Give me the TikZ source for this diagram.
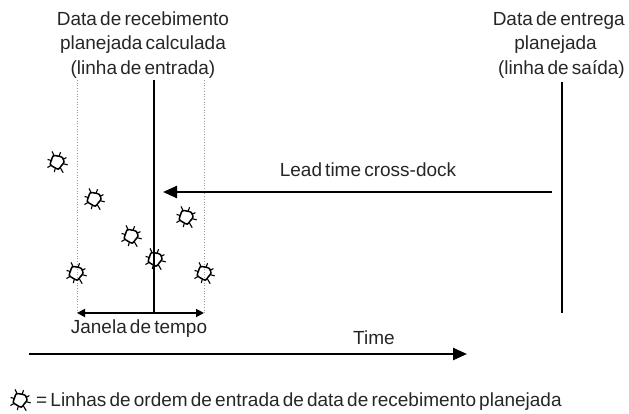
\documentclass[tikz,border=0pt]{standalone}
\usepackage{fontspec}
\setmainfont[WordSpace=0.6]{Liberation Sans}
\usetikzlibrary{arrows.meta}
\definecolor{txt}{HTML}{262626}
\definecolor{dotc}{HTML}{9A9A9A}
\tikzset{
  lbl/.style={inner sep=0pt, text=txt, font=\fontsize{19}{24.5}\selectfont, align=center},
  vline/.style={line width=1.1pt, black},
  dline/.style={line width=0.7pt, dotc, dotted},
  bigarrow/.style={line width=2.4pt, -{Triangle[length=14pt,width=12pt]}},
  bracket/.style={line width=1.8pt, {Triangle[length=8pt,width=8pt]}-{Triangle[length=8pt,width=8pt]}},
  burst/.pic={
    \begin{scope}[scale=1.3]
    \draw[line width=1.5pt] plot[smooth cycle] coordinates {(0:5.4)(40:4.4)(80:5.6)(120:4.6)(160:5.5)(200:4.5)(240:5.6)(280:4.6)(320:5.4)};
    \foreach \a/\r in {15/8.5,60/9.5,105/8,150/8.5,195/7.5,245/9,290/8,335/8}
      \draw[line width=1.1pt] (\a:4.8) -- (\a:\r);
    \end{scope}
  }
}
\begin{document}
\begin{tikzpicture}[x=1pt,y=-1pt]
\useasboundingbox (0,0) rectangle (629,413);
% top labels
\node[lbl] (inlbl) at (143,45) {Data de recebimento\\planejada calculada\\(linha de entrada)};
\node[lbl, align=right, anchor=east] (outlbl) at (625,45) {Data de entrega\\planejada\rule{28pt}{0pt}\\(linha de saída)};
% vertical lines
\coordinate (dlt) at (77,80);  \coordinate (dlb) at (77,313);
\coordinate (drt) at (204,80); \coordinate (drb) at (204,313);
\coordinate (it) at (154,80);  \coordinate (ib) at (154,313);
\coordinate (ot) at (562,82);  \coordinate (ob) at (562,313);
\draw[dline] (dlt) -- (dlb);
\draw[dline] (drt) -- (drb);
\draw[vline] (it) -- (ib);
\draw[vline] (ot) -- (ob);
% lead time arrow
\coordinate (lts) at (552,192);
\coordinate (lte) at (163,192);
\draw[bigarrow] (lts) -- (lte);
\node[lbl] (ltlbl) at (368,170) {Lead time cross-dock};
% bracket
\draw[bracket] (dlb) -- (drb);
\node[lbl] (jan) at (139,329) {Janela de tempo};
% time arrow
\coordinate (ts) at (29,354);
\coordinate (te) at (467,354);
\draw[bigarrow] (ts) -- (te);
\node[lbl] (time) at (374,338) {Time};
% bursts
\pic at (57,162) {burst};
\pic at (94,199) {burst};
\pic at (131,236) {burst};
\pic at (155,259) {burst};
\pic at (186,217) {burst};
\pic at (76,273) {burst};
\pic at (204,273) {burst};
% legend
\pic at (20,400) {burst};
\node[lbl, anchor=west] (leg) at (36,402) {= Linhas de ordem de entrada de data de recebimento planejada};
\end{tikzpicture}
\end{document}
